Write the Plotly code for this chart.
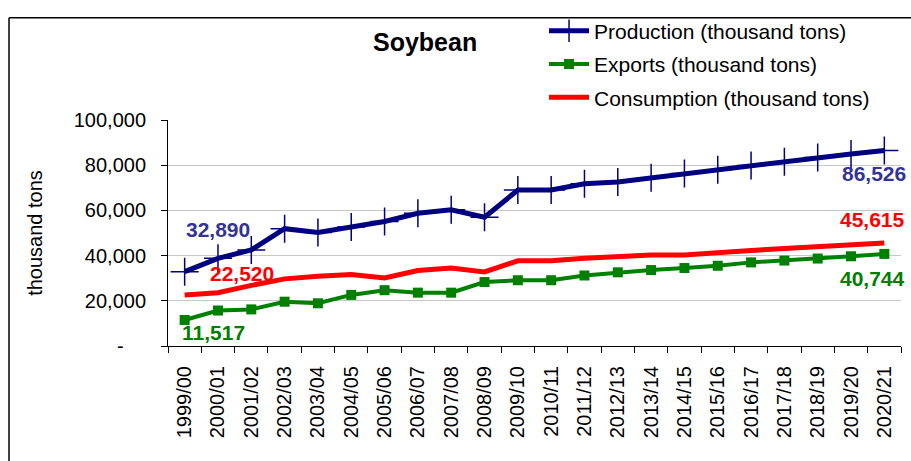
import plotly.graph_objects as go

years = ["1999/00", "2000/01", "2001/02", "2002/03", "2003/04", "2004/05", "2005/06",
         "2006/07", "2007/08", "2008/09", "2009/10", "2010/11", "2011/12", "2012/13",
         "2013/14", "2014/15", "2015/16", "2016/17", "2017/18", "2018/19", "2019/20", "2020/21"]

production = [32890, 38800, 42500, 51900, 50200, 52600, 55100, 58700, 60300, 57000, 69000,
              69000, 71800, 72600, 74400, 76300, 78000, 79900, 81500, 83400, 85000, 86526]
exports = [11517, 15700, 16200, 19600, 18900, 22600, 24700, 23600, 23600, 28300, 29100,
           29100, 31200, 32600, 33600, 34500, 35500, 37000, 37800, 38700, 39700, 40744]
consumption = [22520, 23600, 26800, 29700, 30900, 31600, 30100, 33400, 34500, 32800, 37700,
               37700, 38800, 39600, 40300, 40300, 41500, 42300, 43100, 43800, 44700, 45615]

y_tickvals = [0, 20000, 40000, 60000, 80000, 100000]
y_ticktext = ["-\u00a0\u00a0\u00a0\u00a0", "20,000", "40,000", "60,000", "80,000", "100,000"]

FONT = "Liberation Sans, Arial, sans-serif"
NAVY = "#000080"
GREEN = "#008000"
RED = "#FF0000"

fig = go.Figure()
fig.add_trace(go.Scatter(
    x=years, y=production, name="Production (thousand tons)", mode="lines+markers",
    line=dict(color=NAVY, width=5),
    marker=dict(symbol="cross-thin", size=20, line=dict(color=NAVY, width=1.5)),
    legendgroup="a"))
fig.add_trace(go.Scatter(
    x=years, y=exports, name="Exports (thousand tons)", mode="lines+markers",
    line=dict(color=GREEN, width=4),
    marker=dict(symbol="square", size=10, color=GREEN),
    legendgroup="b"))
fig.add_trace(go.Scatter(
    x=years, y=consumption, name="Consumption (thousand tons)", mode="lines",
    line=dict(color=RED, width=5),
    legendgroup="c"))

def lab(i, series, color, xs, ys):
    return dict(x=years[i], y=series[i], xref="x", yref="y", text=f"<b>{series[i]:,}</b>",
                showarrow=False, xshift=xs, yshift=ys,
                font=dict(family=FONT, size=21, color=color))

annotations = [
    lab(0, production, "#333399", 33, 42),
    lab(0, consumption, RED, 57, 22),
    lab(0, exports, GREEN, 29, -13),
    lab(21, production, "#333399", -10, -23),
    lab(21, consumption, RED, -12, 23),
    lab(21, exports, GREEN, -12, -25),
    dict(x=0.3506, y=1.343, xref="paper", yref="paper", text="<b>Soybean</b>",
         xanchor="center", yanchor="middle",
         showarrow=False, font=dict(family=FONT, size=25, color="black")),
]

shapes = [
    # white patch behind the legend (covers the top gridline, under the traces)
    dict(type="rect", xref="paper", yref="paper", x0=0.4768, x1=0.9823, y0=0.99, y1=1.44,
         fillcolor="white", line=dict(width=0), layer="between"),
    dict(type="line", xref="paper", yref="paper", x0=-0.2169, x1=1.05, y0=1.4522, y1=1.4522,
         line=dict(color="black", width=1.5)),
    dict(type="line", xref="paper", yref="paper", x0=-0.2169, x1=-0.2169, y0=1.4522, y1=-0.52,
         line=dict(color="black", width=1.5)),
]

fig.update_layout(
    width=911, height=461,
    margin=dict(l=168, r=10, t=116, b=115),
    paper_bgcolor="white", plot_bgcolor="white",
    font=dict(family=FONT, size=20, color="black"),
    showlegend=True,
    legend=dict(x=0.5130, y=1.484, xanchor="left", yanchor="top",
                bgcolor="rgba(0,0,0,0)", font=dict(family=FONT, size=21, color="black"),
                traceorder="grouped", tracegroupgap=3, itemwidth=40),
    annotations=annotations,
    shapes=shapes,
    xaxis=dict(type="category", range=[-0.5, 21.5], tickson="boundaries",
               ticks="outside", ticklen=6, tickcolor="black", showline=True,
               linecolor="black", linewidth=1, showgrid=False, tickangle=-90,
               tickfont=dict(family=FONT, size=20), ticklabelstandoff=11, automargin=False),
    yaxis=dict(range=[0, 100000], tickvals=y_tickvals, ticktext=y_ticktext,
               ticks="outside", ticklen=6, tickcolor="black", showline=True,
               linecolor="black", linewidth=1, showgrid=True, gridcolor="#c8c8c8",
               gridwidth=1, zeroline=False, tickfont=dict(family=FONT, size=20),
               ticklabelstandoff=11, automargin=False,
               title=dict(text="thousand tons", font=dict(family=FONT, size=20), standoff=25)),
)

fig.write_html("out.html", config={"displayModeBar": False},
               post_script="document.body.style.margin='0';")
